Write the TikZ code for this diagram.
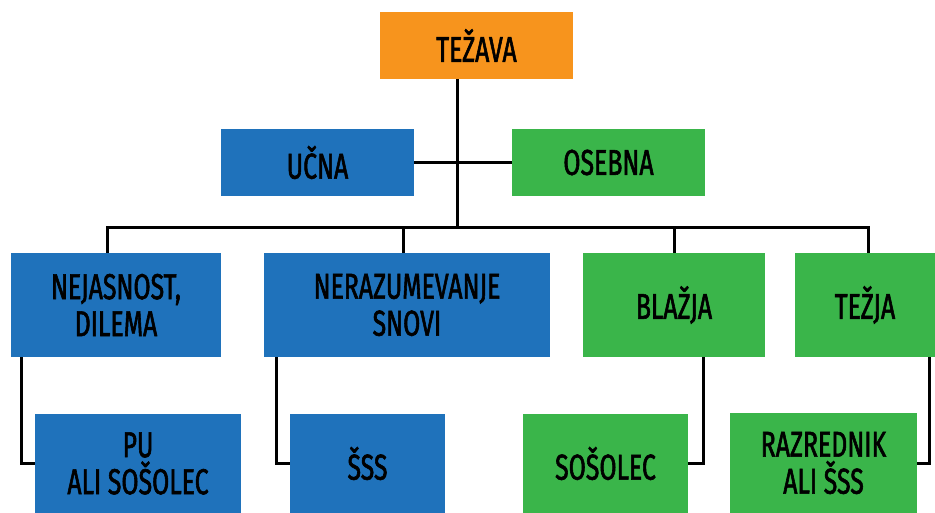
\documentclass[tikz,border=0pt]{standalone}
\usepackage{fontspec}
\setmainfont{Fira Sans}[FakeStretch=0.69, FakeBold=1.6]
\definecolor{corange}{HTML}{F7941D}
\definecolor{cblue}{HTML}{1F72BB}
\definecolor{cgreen}{HTML}{3AB54A}
\tikzset{
  box/.style={inner sep=0pt, align=center, text=black,
    font={\fontsize{36}{37}\selectfont}},
  link/.style={line width=3pt, black, line cap=butt},
}
\begin{document}
\begin{tikzpicture}[x=1pt, y=-1pt]
\useasboundingbox (0,0) rectangle (935,513);
% boxes
\node[box, fill=corange, minimum width=193pt, minimum height=67pt] (tez) at (476.5,45.5) {TEŽAVA};
\node[box, fill=cblue, minimum width=193pt, minimum height=67pt] (ucna) at (317.5,162.5) {UČNA};
\node[box, fill=cgreen, minimum width=193pt, minimum height=67pt] (oseb) at (608.5,162.5) {OSEBNA};
\node[box, fill=cblue, minimum width=210pt, minimum height=104pt] (nej) at (116,305) {NEJASNOST,\\DILEMA};
\node[box, fill=cblue, minimum width=286pt, minimum height=104pt] (ner) at (407,305) {NERAZUMEVANJE\\SNOVI};
\node[box, fill=cgreen, minimum width=182pt, minimum height=104pt] (bla) at (674,305) {BLAŽJA};
\node[box, fill=cgreen, minimum width=140pt, minimum height=104pt] (tja) at (865,305) {TEŽJA};
\node[box, fill=cblue, minimum width=206pt, minimum height=99pt] (pu) at (138,463.5) {PU\\ALI SOŠOLEC};
\node[box, fill=cblue, minimum width=155pt, minimum height=99pt] (sss) at (367.5,463.5) {ŠSS};
\node[box, fill=cgreen, minimum width=165pt, minimum height=99pt] (sos) at (605.5,463.5) {SOŠOLEC};
\node[box, fill=cgreen, minimum width=187pt, minimum height=100pt] (raz) at (823.5,463) {RAZREDNIK\\ALI ŠSS};
% bus and elbow coordinates
\coordinate (trunk) at (457,228);
\coordinate (b1) at (107,228);
\coordinate (b2) at (403,228);
\coordinate (b3) at (674,228);
\coordinate (b4) at (868,228);
\coordinate (e1) at (21,466);
\coordinate (e2) at (276,466);
\coordinate (e3) at (703,466);
\coordinate (e4) at (929,466);
% connectors
\draw[link] (trunk |- tez.south) -- (trunk);
\draw[link] (ucna.east) -- (oseb.west);
\draw[link] (b1 |- nej.north) -- (b1) -- (b4) -- (b4 |- tja.north);
\draw[link] (b2) -- (b2 |- ner.north);
\draw[link] (b3) -- (b3 |- bla.north);
\draw[link] (e1 |- nej.south) |- (pu.west);
\draw[link] (e2 |- ner.south) |- (sss.west);
\draw[link] (e3 |- bla.south) |- (sos.east);
\draw[link] (e4 |- tja.south) |- (raz.east);
\end{tikzpicture}
\end{document}
